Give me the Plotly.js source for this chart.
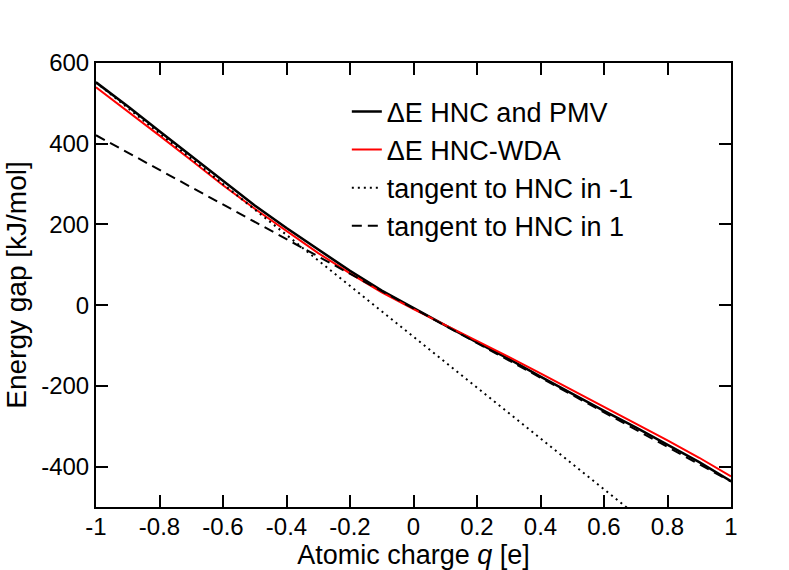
<!DOCTYPE html>
<html>
<head>
<meta charset="utf-8">
<script src="https://cdn.plot.ly/plotly-3.0.1.min.js"></script>
<style>
  html, body { margin: 0; padding: 0; background: #fff; }
  #chart { width: 789px; height: 570px; }
</style>
</head>
<body>
<div id="chart"></div>
<script>
(function () {
  'use strict';

  // Atomic charge q [e]
  var charge = [-1, -0.9, -0.8, -0.7, -0.6, -0.5, -0.4, -0.3, -0.2, -0.1, 0,
                0.1, 0.2, 0.3, 0.4, 0.5, 0.6, 0.7, 0.8, 0.9, 1];
  // Energy gap [kJ/mol]
  var gapHncPmv = [552, 493, 431, 369, 307, 247, 191, 137, 85, 36, -8,
                   -50, -92, -133, -177, -220, -262, -303, -346, -389, -436];
  var gapHncWda = [540, 481, 420, 359, 297, 239, 184, 129, 79, 32, -10,
                   -49, -88, -128, -169, -210, -251, -292, -335, -378, -424];

  // tangent lines, given at their end points
  var tangentCharge = [-1, 1];
  var tangentAtMinus1 = [552, -708];
  var tangentAtPlus1 = [421, -437];

  // tick labels (plain hyphen as minus, like the original)
  var xTickVals = [-1, -0.8, -0.6, -0.4, -0.2, 0, 0.2, 0.4, 0.6, 0.8, 1];
  var xTickText = ['-1', '-0.8', '-0.6', '-0.4', '-0.2', '0', '0.2', '0.4', '0.6', '0.8', '1'];
  var yTickVals = [-400, -200, 0, 200, 400, 600];
  var yTickText = ['-400', '-200', '0', '200', '400', '600'];

  var FONT = 'Liberation Sans, Arial, Helvetica, sans-serif';

  var traces = [
    {
      x: charge, y: gapHncPmv,
      mode: 'lines',
      line: { color: '#000000', width: 2.5 },
      name: '\u0394E HNC and PMV',
    },
    {
      x: charge, y: gapHncWda,
      mode: 'lines',
      line: { color: '#ff0000', width: 2 },
      name: '\u0394E HNC-WDA',
    },
    {
      x: tangentCharge, y: tangentAtMinus1,
      mode: 'lines',
      line: { color: '#000000', width: 2, dash: '2px,4px' },
      name: 'tangent to HNC in -1',
    },
    {
      x: tangentCharge, y: tangentAtPlus1,
      mode: 'lines',
      line: { color: '#000000', width: 2, dash: '10px,6px' },
      name: 'tangent to HNC in 1',
    },
  ];

  var axisBase = {
    showgrid: false,
    zeroline: false,
    showline: true,
    linecolor: '#000000',
    linewidth: 2,
    mirror: 'ticks',
    ticks: 'inside',
    ticklen: 12,
    tickwidth: 2,
    tickcolor: '#000000',
    tickmode: 'array',
    tickfont: { family: FONT, size: 24, color: '#000000' },
    automargin: false,
  };

  var layout = {
    width: 789,
    height: 570,
    paper_bgcolor: '#ffffff',
    plot_bgcolor: '#ffffff',
    font: { family: FONT, color: '#000000' },
    margin: { l: 96, r: 58, t: 63, b: 63 },
    showlegend: true,
    legend: {
      x: 0.395, y: 0.945, xanchor: 'left', yanchor: 'top',
      bgcolor: 'rgba(0,0,0,0)',
      borderwidth: 0,
      itemwidth: 30,
      font: { family: FONT, size: 27, color: '#000000' },
    },
    xaxis: Object.assign({}, axisBase, {
      range: [-1, 1],
      tickvals: xTickVals,
      ticktext: xTickText,
      ticklabelstandoff: -3,
      title: { text: 'Atomic charge <i>q</i> [e]', font: { family: FONT, size: 27 }, standoff: 7 },
    }),
    yaxis: Object.assign({}, axisBase, {
      range: [-500, 600],
      tickvals: yTickVals,
      ticktext: yTickText,
      title: { text: 'Energy gap [kJ/mol]', font: { family: FONT, size: 28 }, standoff: 6 },
    }),
  };

  Plotly.newPlot('chart', traces, layout, { displayModeBar: false, staticPlot: true });
})();
</script>
</body>
</html>
